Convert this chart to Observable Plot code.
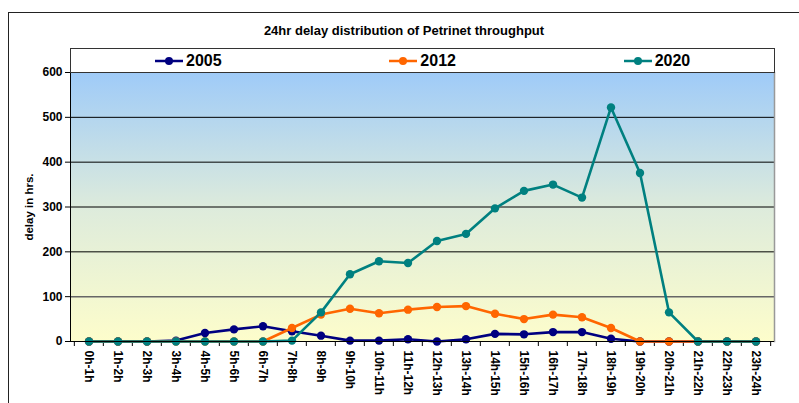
<!DOCTYPE html>
<html>
<head>
<meta charset="utf-8">
<script src="https://cdn.jsdelivr.net/npm/d3@7"></script>
<script src="https://cdn.jsdelivr.net/npm/@observablehq/plot@0.6"></script>
<style>
  html, body { margin: 0; padding: 0; background: #fff; }
  body { width: 799px; height: 403px; overflow: hidden; position: relative; font-family: "Liberation Sans", Arial, sans-serif; }
  #border { position: absolute; left: 8px; top: 12px; width: 820px; height: 420px; border: 1px solid #222; box-sizing: border-box; }
  #title { position: absolute; left: 0; top: 23px; width: 808px; text-align: center; font-weight: bold; font-size: 13px; color: #000; }
  #chart { position: absolute; left: 0; top: 0; }
  #chart svg text { font-weight: bold; }
  #legend { position: absolute; left: 70px; top: 48px; width: 705px; height: 25px; box-sizing: border-box; border: 1px solid #333; background: #fff; display: flex; }
  .entry { width: 235px; box-sizing: border-box; padding-left: 84px; display: flex; align-items: center; font-weight: bold; font-size: 16px; color: #000; }
  .entry svg { margin-right: 3px; }
</style>
</head>
<body>
<div id="chart"></div>
<div id="border"></div>
<div id="title"></div>
<div id="legend"></div>
<script>
const title = "24hr delay distribution of Petrinet throughput";
const yLabel = "delay in hrs.";
const hours = ["0h-1h","1h-2h","2h-3h","3h-4h","4h-5h","5h-6h","6h-7h","7h-8h","8h-9h","9h-10h","10h-11h","11h-12h",
  "12h-13h","13h-14h","14h-15h","15h-16h","16h-17h","17h-18h","18h-19h","19h-20h","20h-21h","21h-22h","22h-23h","23h-24h"];
const years = ["2005", "2012", "2020"];
const colors = ["#000080", "#FF6600", "#008080"];
const v2005 = [0,0,0,2,19,27,34,23,13,2,2,5,0,5,17,16,21,21,6,0,0,0,0,0];
const v2012 = [0,0,0,0,0,0,0,30,60,73,63,71,77,79,62,50,60,54,30,0,0,0,0,0];
const v2020 = [0,0,0,0,0,0,0,2,65,150,179,175,224,240,297,336,350,321,522,376,65,0,0,0];
const yTicks = [0,100,200,300,400,500,600];

const seriesValues = [v2005, v2012, v2020];
const W = 799, H = 403, ML = 70, MR = 25, MT = 72, MB = 62;
const bw = (W - ML - MR) / hours.length;

document.getElementById("title").textContent = title;
const legend = document.getElementById("legend");
years.forEach((yr, i) => {
  const e = document.createElement("div");
  e.className = "entry";
  e.innerHTML = `<svg width="28" height="10"><line x1="0" x2="28" y1="5" y2="5" stroke="${colors[i]}" stroke-width="2.5"/><circle cx="14" cy="5" r="4" fill="${colors[i]}"/></svg><span>${yr}</span>`;
  legend.appendChild(e);
});

const marks = [
  Plot.frame({fill: "url(#bgGrad)"}),
  Plot.ruleY(yTicks.filter(d => d > 0 && d !== 100), {stroke: "#000", strokeWidth: 1}),
  Plot.ruleY([100], {stroke: "#666", strokeWidth: 1.5}),
  Plot.frame({anchor: "right", stroke: "#999", strokeWidth: 1.5}),
  Plot.frame({anchor: "left", stroke: "#000"}),
  Plot.axisY({ticks: yTicks, tickSize: 5, tickPadding: 3, fontWeight: "bold", fontSize: 12, label: null, stroke: "#000"}),
  Plot.axisX({tickSize: 5, tickFormat: () => "", dx: -bw / 2, label: null}),
  Plot.axisX({ticks: [hours[hours.length - 1]], tickSize: 5, tickFormat: () => "", dx: bw / 2, label: null}),
  Plot.axisX({tickSize: 0, tickPadding: 9, tickRotate: 90, textAnchor: "start", fontWeight: "bold", fontSize: 12, label: null}),
  Plot.text([yLabel], {frameAnchor: "left", textAnchor: "middle", dx: -41, rotate: -90, fontWeight: "bold", fontSize: 11.5, fill: "#000"})
];
seriesValues.forEach((vals, i) => {
  const data = hours.map((h, j) => ({hour: h, value: vals[j]}));
  marks.push(Plot.line(data, {x: "hour", y: "value", stroke: colors[i], strokeWidth: 2.6}));
  marks.push(Plot.dot(data, {x: "hour", y: "value", fill: colors[i], r: 4.2}));
});
marks.push(Plot.ruleY([0], {stroke: "#000", strokeWidth: 1.2}));

const chart = Plot.plot({
  width: W, height: H,
  marginLeft: ML, marginRight: MR, marginTop: MT, marginBottom: MB,
  style: {fontFamily: "'Liberation Sans', Arial, sans-serif", color: "#000", background: "transparent", fontWeight: "bold"},
  x: {type: "band", domain: hours, padding: 0, label: null, axis: null},
  y: {domain: [0, 600], label: null, axis: null},
  marks
});
const defs = d3.select(chart).insert("defs", ":first-child");
const g = defs.append("linearGradient").attr("id", "bgGrad").attr("x1", 0).attr("x2", 0).attr("y1", 0).attr("y2", 1);
g.append("stop").attr("offset", "0%").attr("stop-color", "#9FCBF8");
g.append("stop").attr("offset", "50%").attr("stop-color", "#DDEBDC");
g.append("stop").attr("offset", "100%").attr("stop-color", "#FDFDCB");
document.getElementById("chart").appendChild(chart);
</script>
</body>
</html>
